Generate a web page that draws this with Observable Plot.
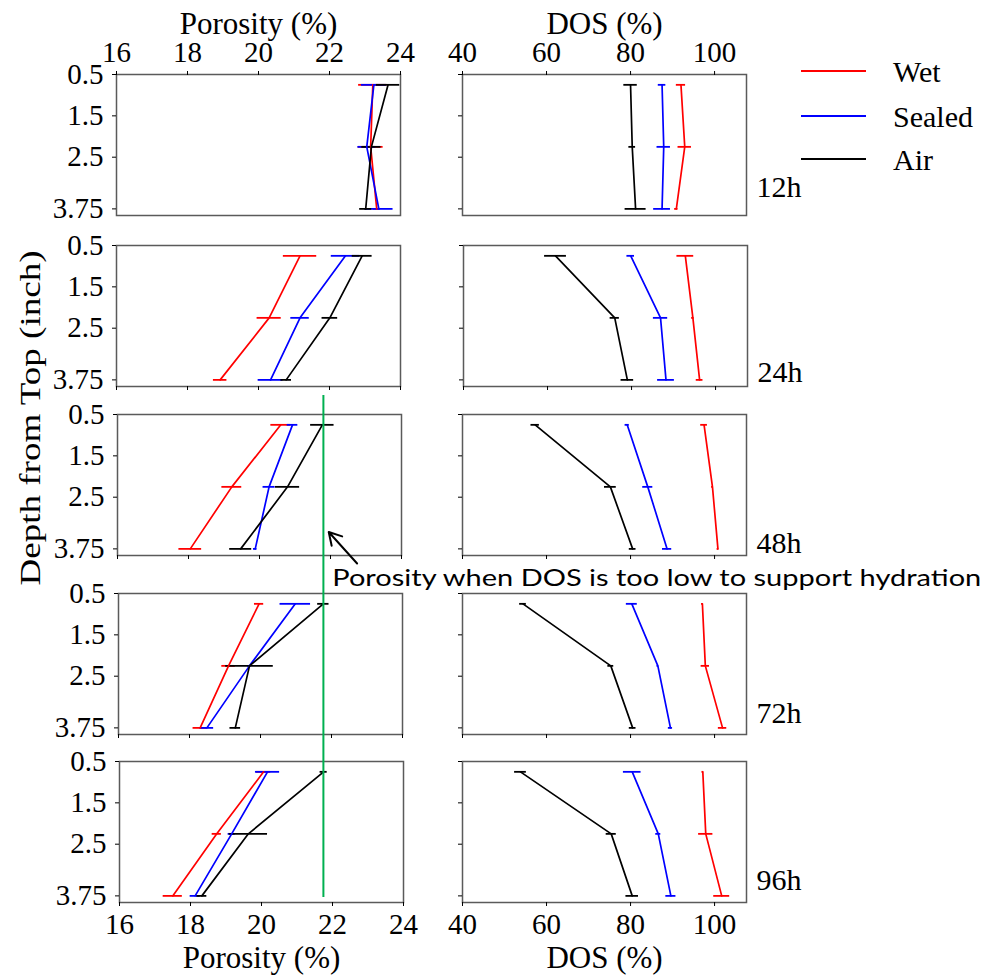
<!DOCTYPE html>
<html><head><meta charset="utf-8">
<script src="https://cdn.jsdelivr.net/npm/d3@7"></script>
<script src="https://cdn.jsdelivr.net/npm/@observablehq/plot@0.6"></script>
<style>
body{margin:0;background:#fff;}
#fig{position:relative;width:986px;height:976px;background:#fff;overflow:hidden;}
#fig > div{position:absolute;}
#fig svg.serif text{font-family:"Liberation Serif", serif !important;}
</style></head><body><div id="fig"></div>
<script>
// ---------- data ----------
const times = ["12h", "24h", "48h", "72h", "96h"];
const depths = [0.75, 2.25, 3.75];
const depthTicks = [0.5, 1.5, 2.5, 3.75];
const porosityTicks = [16, 18, 20, 22, 24];
const dosTicks = [40, 60, 80, 100];
const seriesNames = ["Wet", "Sealed", "Air"];
const seriesColors = ["#ff0000", "#0000ff", "#000000"];
const porosityTitle = "Porosity (%)";
const dosTitle = "DOS (%)";
const depthTitle = "Depth from Top (inch)";
const annotationText = "Porosity when DOS is too low to support hydration";
const thresholdPorosity = 21.8;

// porosity (%) per time row, at depths 0.75, 2.25, 3.75
const porosityWet    = [[23.22, 23.16, 23.33], [21.17, 20.30, 18.92], [20.60, 19.22, 18.05], [19.96, 19.10, 18.30], [20.06, 18.74, 17.50]];
const porosityWetErr = [[0.40, 0.35, 0.10], [0.47, 0.34, 0.19], [0.28, 0.28, 0.32], [0.13, 0.19, 0.20], [0.20, 0.13, 0.27]];
const porositySealed    = [[23.25, 23.05, 23.39], [22.45, 21.17, 20.34], [20.93, 20.27, 19.88], [20.98, 19.69, 18.49], [20.17, 19.16, 18.13]];
const porositySealedErr = [[0.35, 0.25, 0.40], [0.40, 0.26, 0.35], [0.15, 0.17, 0.05], [0.43, 0.05, 0.19], [0.34, 0.10, 0.14]];
const porosityAir    = [[23.65, 23.18, 23.02], [22.92, 22.01, 20.78], [21.77, 20.79, 19.47], [21.77, 19.69, 19.29], [21.75, 19.63, 18.32]];
const porosityAirErr = [[0.33, 0.27, 0.17], [0.28, 0.22, 0.15], [0.33, 0.34, 0.31], [0.16, 0.67, 0.15], [0.10, 0.54, 0.14]];

// DOS (%) per time row
const dosWet    = [[92.0, 92.9, 90.9], [92.8, 94.6, 96.2], [97.5, 99.5, 100.8], [97.1, 97.8, 101.9], [97.2, 97.9, 101.7]];
const dosWetErr = [[1.1, 1.6, 0.4], [2.0, 0.3, 0.8], [0.8, 0.2, 0.2], [0.2, 1.0, 1.0], [0.2, 1.7, 1.9]];
const dosSealed    = [[87.5, 87.9, 87.5], [79.8, 86.9, 88.2], [79.2, 84.1, 88.7], [80.3, 86.5, 89.5], [80.4, 86.6, 89.6]];
const dosSealedErr = [[0.9, 1.6, 2.0], [0.9, 1.7, 2.0], [0.5, 1.2, 1.1], [1.3, 0.2, 0.5], [2.1, 0.6, 1.2]];
const dosAir    = [[80.0, 80.4, 81.2], [61.9, 76.0, 79.0], [57.3, 75.2, 80.5], [54.4, 75.3, 80.5], [53.8, 75.4, 80.4]];
const dosAirErr = [[1.6, 0.8, 2.5], [2.6, 1.1, 1.5], [1.0, 1.4, 0.8], [0.8, 0.7, 0.8], [1.4, 1.2, 1.5]];

// ---------- layout ----------
const frameW = 284, frameH = 141;
const rowTop = [74, 245, 414, 593, 761];
const porLeft = [116, 116, 117, 118, 119];
const dosLeft = [462, 463, 462, 462, 462];
const rowLabelOffset = [113, 127, 129, 120, 119];
const serifFamily = "Liberation Serif";
const serif = `"${serifFamily}", serif`;
const tickFont = 29, titleFont = 31, legendFont = 30, rowLabelFont = 30;

function forceSerif(svg) {
  svg.classList.add("serif");
  svg.querySelectorAll("text").forEach(t => t.style.setProperty("font-family", serif, "important"));
  return svg;
}

const fig = document.getElementById("fig");

function panel(row, kind) {
  const isPor = kind === "porosity";
  const ml = 75, mr = 60, mt = 70, mb = 80;
  const vals = isPor ? [porosityWet, porositySealed, porosityAir] : [dosWet, dosSealed, dosAir];
  const errs = isPor ? [porosityWetErr, porositySealedErr, porosityAirErr] : [dosWetErr, dosSealedErr, dosAirErr];
  const data = seriesNames.flatMap((s, k) => depths.map((d, i) => ({series: s, depth: d, value: vals[k][row][i], err: errs[k][row][i]})));
  const ticks = isPor ? porosityTicks : dosTicks;
  const title = isPor ? porosityTitle : dosTitle;
  const font = {fontFamily: serifFamily};
  const marks = [
    Plot.ruleY(data, {y: "depth", x1: d => d.value - d.err, x2: d => d.value + d.err, stroke: "series", strokeWidth: 1.8}),
    Plot.line(data, {x: "value", y: "depth", z: "series", stroke: "series", strokeWidth: 1.7}),
    Plot.frame({stroke: "#5a5a5a", strokeWidth: 1.5}),
    Plot.axisY({ticks: depthTicks, tickSize: 4, tickPadding: 9, label: null, fontSize: tickFont, ...font, tickFormat: isPor ? d => String(d) : () => ""})
  ];
  if (row === 0) {
    marks.push(Plot.axisX({anchor: "top", ticks, tickSize: 4, tickPadding: 9, label: null, fontSize: tickFont, ...font, tickFormat: d => String(d)}));
    marks.push(Plot.text([title], {text: d => d, frameAnchor: "top", dy: -41, lineAnchor: "bottom", fontSize: titleFont, ...font}));
  } else {
    marks.push(Plot.axisX({anchor: "bottom", ticks, tickSize: 4, tickPadding: 7, label: null, fontSize: tickFont, ...font, tickFormat: row === 4 ? d => String(d) : () => ""}));
    if (row === 4) marks.push(Plot.text([title], {text: d => d, frameAnchor: "bottom", dy: 65, lineAnchor: "bottom", fontSize: titleFont, ...font}));
  }
  if (!isPor) {
    marks.push(Plot.text([times[row]], {text: d => d, frameAnchor: "top-right", dx: 10, dy: rowLabelOffset[row], textAnchor: "start", lineAnchor: "middle", fontSize: rowLabelFont, ...font}));
  }
  const svg = Plot.plot({
    width: frameW + ml + mr, height: frameH + mt + mb,
    marginLeft: ml, marginRight: mr, marginTop: mt, marginBottom: mb,
    x: {domain: isPor ? [16, 24] : [40, 107.6], axis: null, label: null},
    y: {domain: [0.5, 3.91], reverse: true, axis: null, label: null},
    color: {domain: seriesNames, range: seriesColors},
    style: {fontFamily: serif, fontSize: tickFont + "px", color: "black", background: "transparent", overflow: "visible"},
    marks
  });
  forceSerif(svg);
  const wrap = document.createElement("div");
  wrap.style.left = ((isPor ? porLeft[row] : dosLeft[row]) - ml) + "px";
  wrap.style.top = (rowTop[row] - mt) + "px";
  wrap.appendChild(svg);
  fig.appendChild(wrap);
}

for (let r = 0; r < times.length; r++) { panel(r, "porosity"); panel(r, "dos"); }

// ---------- overlay: threshold line, arrow, annotation ----------
const overlay = Plot.plot({
  width: 986, height: 976, margin: 0,
  x: {domain: [16, 24], range: [porLeft[2], porLeft[2] + frameW], axis: null},
  y: {domain: [0, 976], range: [0, 976], axis: null},
  style: {background: "transparent", overflow: "visible"},
  marks: [
    Plot.ruleX([thresholdPorosity], {x: d => d, y1: () => 395, y2: () => 897, stroke: "#00b050", strokeWidth: 2}),
    Plot.arrow([0], {x1: () => 22.75, y1: () => 563, x2: () => 21.95, y2: () => 531.5, stroke: "black", strokeWidth: 2, headLength: 11}),
    Plot.text([annotationText], {text: d => d, x: () => 22.05, y: () => 585, textAnchor: "start", lineAnchor: "bottom", fontFamily: "Lato, Open Sans, sans-serif", fontSize: 24, fill: "black"})
  ]
});
overlay.querySelectorAll("text").forEach(t => { t.setAttribute("textLength", 649); t.setAttribute("lengthAdjust", "spacingAndGlyphs"); });
const ow = document.createElement("div");
ow.style.left = "0px"; ow.style.top = "0px";
ow.appendChild(overlay);
fig.appendChild(ow);

// ---------- legend and y title ----------
const deco = d3.create("svg").attr("width", 986).attr("height", 976).style("position", "absolute").style("left", 0).style("top", 0);
const legendY = [71, 116, 159];
seriesNames.forEach((s, i) => {
  deco.append("line").attr("x1", 801).attr("x2", 866).attr("y1", legendY[i]).attr("y2", legendY[i]).attr("stroke", seriesColors[i]).attr("stroke-width", 2);
  deco.append("text").attr("x", 893).attr("y", legendY[i] + 1).attr("dy", "0.33em").style("font-size", legendFont + "px").text(s);
});
deco.append("text").attr("transform", "translate(40,418) rotate(-90)").attr("text-anchor", "middle")
  .style("font-size", "29px").attr("textLength", 335).attr("lengthAdjust", "spacingAndGlyphs").text(depthTitle);
forceSerif(deco.node());
const dw = document.createElement("div");
dw.style.left = "0px"; dw.style.top = "0px";
dw.appendChild(deco.node());
fig.appendChild(dw);
</script></body></html>
